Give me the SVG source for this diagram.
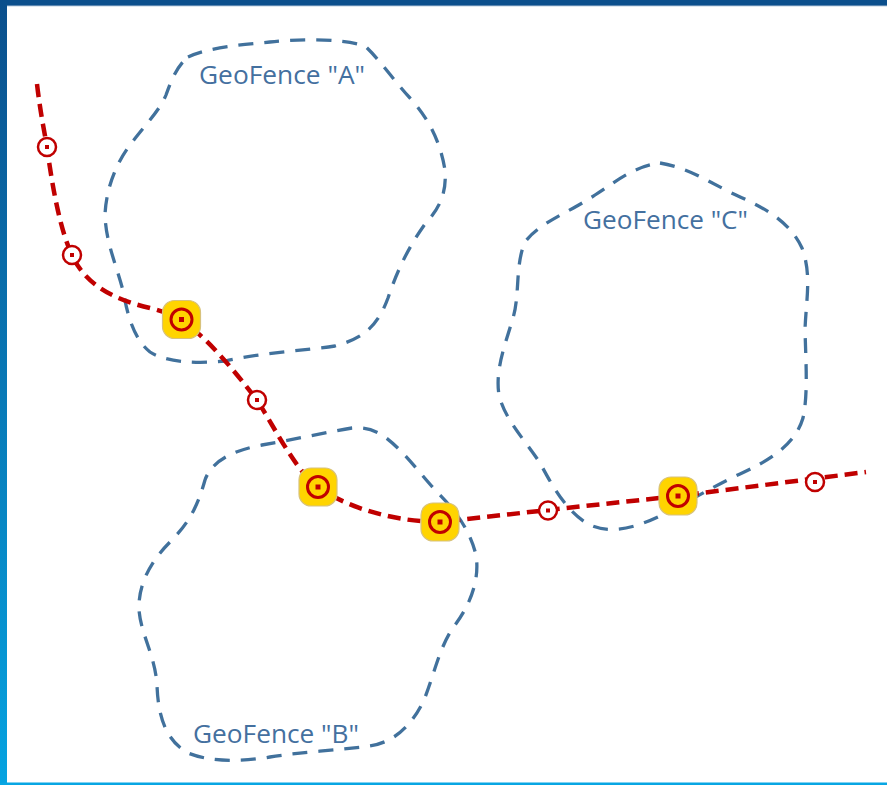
<svg xmlns="http://www.w3.org/2000/svg" width="887" height="785" viewBox="0 0 887 785">
<style>
.fence{fill:none;stroke:#41719c;stroke-width:3.3;stroke-dasharray:15 11;stroke-linecap:butt}
.lbl{font-family:"Open Sans","Noto Sans",sans-serif;font-size:25px;fill:#44709f}
.track{fill:none;stroke:#c00000;stroke-width:4.5;stroke-dasharray:13 7}
.pt{fill:#fff;stroke:#c00000;stroke-width:2.5}
.ctr{fill:#c00000}
.hl{fill:#ffd400;stroke:#d8c27c;stroke-width:1.2}
.ring{fill:none;stroke:#c00000;stroke-width:3}
</style>
<defs>
<linearGradient id="side" x1="0" y1="0" x2="0" y2="1">
<stop offset="0" stop-color="#0b4f8c"/>
<stop offset="1" stop-color="#05a3e1"/>
</linearGradient>
</defs>
<rect width="887" height="785" fill="#fff"/>
<g id="frame">
<rect x="0" y="0" width="887" height="5" fill="#0b4f8c"/>
<rect x="0" y="5" width="887" height="1.2" fill="#5a86b0"/>
<rect x="0" y="0" width="7" height="785" fill="url(#side)"/>
<rect x="0" y="782.5" width="887" height="2.5" fill="#08a6e3"/>
</g>
<g id="geofence-a">
<path class="fence" d="M188,57 C210,47 240,45 270,42 C300,39 340,38 365,46 C380,60 395,82 410,98 C428,118 440,140 445,170 C447,195 438,210 425,224 C410,245 398,268 388,298 C378,325 365,338 335,346 C300,351 260,353 225,361 C195,364 165,362 150,352 C135,340 128,318 124,295 C118,268 106,245 105,215 C106,190 115,165 130,145 C145,125 160,110 166,95 C172,78 178,65 188,57 Z"/>
<text class="lbl" x="199" y="84" textLength="166" lengthAdjust="spacingAndGlyphs">GeoFence "A"</text>
</g>
<g id="geofence-b">
<path class="fence" d="M352,428 C322,433 292,440 262,445 C235,450 212,460 205,480 C198,505 190,522 170,542 C150,562 138,585 139,610 C141,635 155,655 157,685 C158,715 165,740 188,753 C210,762 240,762 270,757 C300,752 340,750 370,746 C395,742 412,725 424,700 C435,672 440,645 455,625 C470,605 480,580 476,555 C470,530 455,510 438,493 C420,474 405,452 385,437 C375,430 365,427 352,428 Z"/>
<text class="lbl" x="193" y="743" textLength="166" lengthAdjust="spacingAndGlyphs">GeoFence "B"</text>
</g>
<g id="geofence-c">
<path class="fence" d="M660,163 C690,168 712,184 738,196 C765,208 790,222 802,248 C812,275 806,300 805,330 C806,365 808,395 803,418 C795,445 770,460 740,474 C712,487 688,502 664,514 C640,526 612,536 588,524 C565,510 552,485 540,463 C525,440 505,420 499,395 C495,370 505,345 513,318 C520,295 515,265 525,242 C540,222 570,212 595,195 C618,180 635,166 660,163 Z"/>
<text class="lbl" x="583" y="229" textLength="165" lengthAdjust="spacingAndGlyphs">GeoFence "C"</text>
</g>
<g id="connectors">
<path id="track" class="track" d="M37,84 C40,110 44,130 47,147 C52,185 60,230 72,255 C85,285 115,300 150,308 C165,312 175,316 181,320 C205,336 230,365 257,400 C275,428 295,470 318,487 C350,510 400,522 440,522 L548,510 L678,496 L866,472"/>
</g>
<g id="point-1"><circle class="pt" cx="47" cy="147" r="9"/><rect class="ctr" x="45" y="145" width="4" height="4"/></g>
<g id="point-2"><circle class="pt" cx="72" cy="255" r="9"/><rect class="ctr" x="70" y="253" width="4" height="4"/></g>
<g id="event-1"><rect class="hl" x="162.5" y="300.5" width="38" height="38" rx="12"/><circle class="ring" cx="181.5" cy="319.5" r="10.5"/><rect class="ctr" x="179" y="317" width="5" height="5"/></g>
<g id="point-3"><circle class="pt" cx="257" cy="400" r="9"/><rect class="ctr" x="255" y="398" width="4" height="4"/></g>
<g id="event-2"><rect class="hl" x="299" y="468" width="38" height="38" rx="12"/><circle class="ring" cx="318" cy="487" r="10.5"/><rect class="ctr" x="315.5" y="484.5" width="5" height="5"/></g>
<g id="event-3"><rect class="hl" x="421" y="503" width="38" height="38" rx="12"/><circle class="ring" cx="440" cy="522" r="10.5"/><rect class="ctr" x="437.5" y="519.5" width="5" height="5"/></g>
<g id="point-4"><circle class="pt" cx="548" cy="510.5" r="9"/><rect class="ctr" x="546" y="508.5" width="4" height="4"/></g>
<g id="event-4"><rect class="hl" x="659" y="477" width="38" height="38" rx="12"/><circle class="ring" cx="678" cy="496" r="10.5"/><rect class="ctr" x="675.5" y="493.5" width="5" height="5"/></g>
<g id="point-5"><circle class="pt" cx="815" cy="482" r="9"/><rect class="ctr" x="813" y="480" width="4" height="4"/></g>
</svg>
